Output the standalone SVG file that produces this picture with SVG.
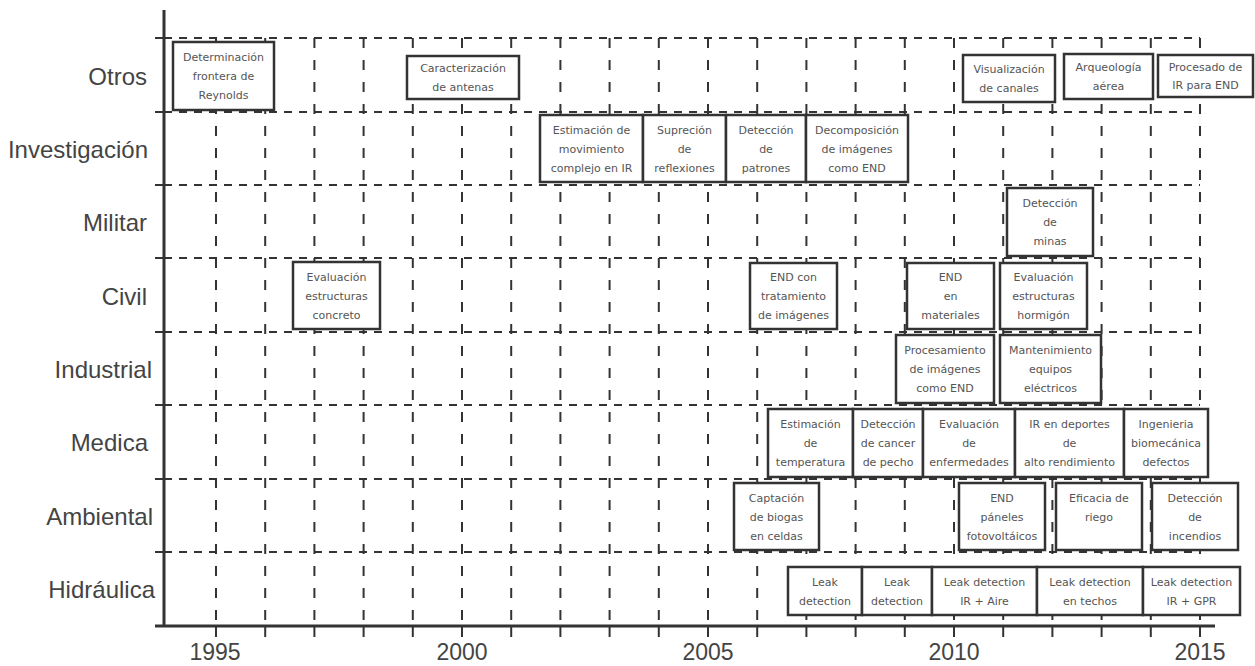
<svg xmlns="http://www.w3.org/2000/svg" width="1255" height="666" viewBox="0 0 1255 666">
<style>
.bg{fill:#fff}
.hg{stroke:#333;stroke-width:2;stroke-dasharray:8 7;fill:none}
.vg{stroke:#333;stroke-width:2;stroke-dasharray:10 12;fill:none}
.ax{stroke:#333;stroke-width:3;fill:none}
.tk{stroke:#333;stroke-width:2;fill:none}
.lab{font-family:"Liberation Sans",Arial,sans-serif;font-size:24px;fill:#444;text-anchor:end}
.yr{font-family:"Liberation Sans",Arial,sans-serif;font-size:23px;fill:#444;text-anchor:middle}
.box rect{fill:#fff;stroke:#333;stroke-width:2.5}
.box text{font-family:"DejaVu Sans","Noto Sans",sans-serif;font-size:11px;fill:#555;text-anchor:middle}
</style>
<rect class="bg" x="0" y="0" width="1255" height="666"/>
<g id="grid">
<path class="hg" d="M164 38H1200M164 112H1200M164 185H1200M164 258H1200M164 332H1200M164 405H1200M164 479H1200M164 552H1200"/>
<path class="vg" d="M216 38V625M265.2 38V625M314.4 38V625M363.6 38V625M412.8 38V625M462 38V625M511.2 38V625M560.4 38V625M609.6 38V625M658.8 38V625M708 38V625M757.2 38V625M806.4 38V625M855.6 38V625M904.8 38V625M954 38V625M1003.2 38V625M1052.4 38V625M1101.6 38V625M1150.8 38V625M1200 38V625"/>
</g>
<g id="axes">
<path class="ax" d="M164 10V627M155 626H1215"/>
<path class="tk" d="M155 38H164M155 112H164M155 185H164M155 258H164M155 332H164M155 405H164M155 479H164M155 552H164"/>
<path class="tk" d="M216 626V637M265.2 626V637M314.4 626V637M363.6 626V637M412.8 626V637M462 626V637M511.2 626V637M560.4 626V637M609.6 626V637M658.8 626V637M708 626V637M757.2 626V637M806.4 626V637M855.6 626V637M904.8 626V637M954 626V637M1003.2 626V637M1052.4 626V637M1101.6 626V637M1150.8 626V637M1200 626V637"/>
</g>
<g id="row-labels">
<text class="lab" x="147" y="85">Otros</text>
<text class="lab" x="148" y="158">Investigación</text>
<text class="lab" x="147" y="231">Militar</text>
<text class="lab" x="147" y="305">Civil</text>
<text class="lab" x="152" y="378">Industrial</text>
<text class="lab" x="148" y="451">Medica</text>
<text class="lab" x="153" y="525">Ambiental</text>
<text class="lab" x="155" y="598">Hidráulica</text>
</g>
<g id="year-labels">
<text class="yr" x="215" y="660">1995</text>
<text class="yr" x="462" y="660">2000</text>
<text class="yr" x="708" y="660">2005</text>
<text class="yr" x="954" y="660">2010</text>
<text class="yr" x="1200" y="660">2015</text>
</g>
<g id="otros-1" class="box"><rect x="173" y="42" width="101" height="68"/><text x="223.5" y="61">Determinación</text><text x="223.5" y="80">frontera de</text><text x="223.5" y="99">Reynolds</text></g>
<g id="otros-2" class="box"><rect x="407" y="56" width="112" height="43"/><text x="463" y="72">Caracterización</text><text x="463" y="91">de antenas</text></g>
<g id="otros-3" class="box"><rect x="963" y="55" width="92" height="47"/><text x="1009" y="73">Visualización</text><text x="1009" y="92">de canales</text></g>
<g id="otros-4" class="box"><rect x="1064" y="54" width="89" height="45"/><text x="1108.5" y="71">Arqueología</text><text x="1108.5" y="90">aérea</text></g>
<g id="otros-5" class="box"><rect x="1158" y="55" width="95" height="42"/><text x="1205.5" y="71">Procesado de</text><text x="1205.5" y="89">IR para END</text></g>
<g id="inv-1" class="box"><rect x="540" y="115" width="103" height="67"/><text x="591.5" y="134">Estimación de</text><text x="591.5" y="153">movimiento</text><text x="591.5" y="172">complejo en IR</text></g>
<g id="inv-2" class="box"><rect x="643" y="115" width="83" height="67"/><text x="684.5" y="134">Supreción</text><text x="684.5" y="153">de</text><text x="684.5" y="172">reflexiones</text></g>
<g id="inv-3" class="box"><rect x="726" y="115" width="80" height="67"/><text x="766" y="134">Detección</text><text x="766" y="153">de</text><text x="766" y="172">patrones</text></g>
<g id="inv-4" class="box"><rect x="806" y="115" width="102" height="67"/><text x="857" y="134">Decomposición</text><text x="857" y="153">de imágenes</text><text x="857" y="172">como END</text></g>
<g id="mil-1" class="box"><rect x="1007" y="188" width="86" height="68"/><text x="1050" y="207">Detección</text><text x="1050" y="226">de</text><text x="1050" y="245">minas</text></g>
<g id="civ-1" class="box"><rect x="293" y="262" width="87" height="67"/><text x="336.5" y="281">Evaluación</text><text x="336.5" y="300">estructuras</text><text x="336.5" y="319">concreto</text></g>
<g id="civ-2" class="box"><rect x="750" y="263" width="87" height="66"/><text x="793.5" y="281">END con</text><text x="793.5" y="300">tratamiento</text><text x="793.5" y="319">de imágenes</text></g>
<g id="civ-3" class="box"><rect x="907" y="263" width="87" height="66"/><text x="950.5" y="281">END</text><text x="950.5" y="300">en</text><text x="950.5" y="319">materiales</text></g>
<g id="civ-4" class="box"><rect x="1000" y="263" width="87" height="66"/><text x="1043.5" y="281">Evaluación</text><text x="1043.5" y="300">estructuras</text><text x="1043.5" y="319">hormigón</text></g>
<g id="ind-1" class="box"><rect x="896" y="335" width="98" height="68"/><text x="945" y="354">Procesamiento</text><text x="945" y="373">de imágenes</text><text x="945" y="392">como END</text></g>
<g id="ind-2" class="box"><rect x="1000" y="335" width="101" height="68"/><text x="1050.5" y="354">Mantenimiento</text><text x="1050.5" y="373">equipos</text><text x="1050.5" y="392">eléctricos</text></g>
<g id="med-1" class="box"><rect x="768" y="409" width="85" height="68"/><text x="810.5" y="428">Estimación</text><text x="810.5" y="447">de</text><text x="810.5" y="466">temperatura</text></g>
<g id="med-2" class="box"><rect x="853" y="409" width="70" height="68"/><text x="888" y="428">Detección</text><text x="888" y="447">de cancer</text><text x="888" y="466">de pecho</text></g>
<g id="med-3" class="box"><rect x="923" y="409" width="92" height="68"/><text x="969" y="428">Evaluación</text><text x="969" y="447">de</text><text x="969" y="466">enfermedades</text></g>
<g id="med-4" class="box"><rect x="1015" y="409" width="109" height="68"/><text x="1069.5" y="428">IR en deportes</text><text x="1069.5" y="447">de</text><text x="1069.5" y="466">alto rendimiento</text></g>
<g id="med-5" class="box"><rect x="1124" y="409" width="84" height="68"/><text x="1166" y="428">Ingenieria</text><text x="1166" y="447">biomecánica</text><text x="1166" y="466">defectos</text></g>
<g id="amb-1" class="box"><rect x="734" y="483" width="85" height="67"/><text x="776.5" y="502">Captación</text><text x="776.5" y="521">de biogas</text><text x="776.5" y="540">en celdas</text></g>
<g id="amb-2" class="box"><rect x="959" y="483" width="86" height="67"/><text x="1002" y="502">END</text><text x="1002" y="521">páneles</text><text x="1002" y="540">fotovoltáicos</text></g>
<g id="amb-3" class="box"><rect x="1056" y="483" width="86" height="67"/><text x="1099" y="502">Eficacia de</text><text x="1099" y="521">riego</text></g>
<g id="amb-4" class="box"><rect x="1152" y="483" width="86" height="67"/><text x="1195" y="502">Detección</text><text x="1195" y="521">de</text><text x="1195" y="540">incendios</text></g>
<g id="hid-1" class="box"><rect x="788" y="567" width="74" height="48"/><text x="825" y="586">Leak</text><text x="825" y="605">detection</text></g>
<g id="hid-2" class="box"><rect x="862" y="567" width="70" height="48"/><text x="897" y="586">Leak</text><text x="897" y="605">detection</text></g>
<g id="hid-3" class="box"><rect x="932" y="567" width="105" height="48"/><text x="984.5" y="586">Leak detection</text><text x="984.5" y="605">IR + Aire</text></g>
<g id="hid-4" class="box"><rect x="1037" y="567" width="106" height="48"/><text x="1090" y="586">Leak detection</text><text x="1090" y="605">en techos</text></g>
<g id="hid-5" class="box"><rect x="1143" y="567" width="97" height="48"/><text x="1191.5" y="586">Leak detection</text><text x="1191.5" y="605">IR + GPR</text></g>
</svg>
